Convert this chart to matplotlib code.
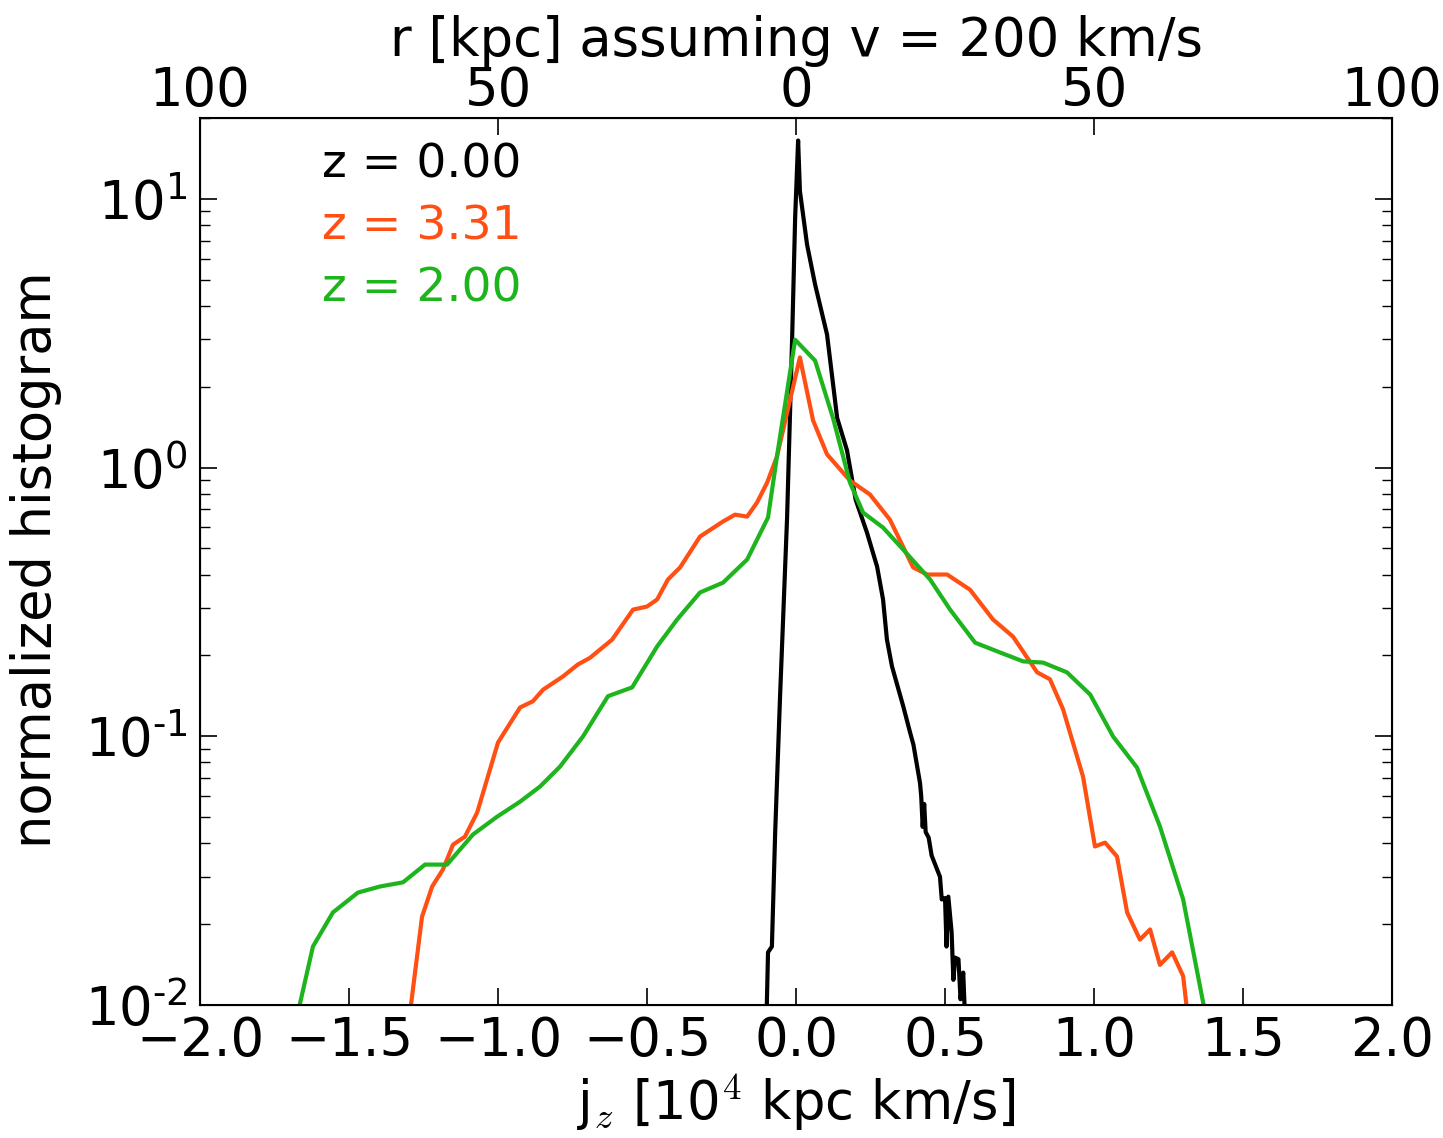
import matplotlib
matplotlib.use("Agg")
import matplotlib.pyplot as plt
from matplotlib.ticker import FixedLocator, FixedFormatter
import numpy as np

# z = 0.00 (black)
black_x = [-0.100, -0.094, -0.081, -0.070, -0.054, -0.030, -0.013, -0.003, 0.007,
           0.013, 0.037, 0.064, 0.104, 0.138, 0.171, 0.200, 0.238, 0.272, 0.292,
           0.305, 0.322, 0.360, 0.383, 0.394, 0.416, 0.420, 0.425, 0.430, 0.435,
           0.445, 0.455, 0.483, 0.489, 0.500, 0.505, 0.511, 0.522, 0.528, 0.534,
           0.545, 0.552, 0.561, 0.567]
black_y = [0.008, 0.0157, 0.0165, 0.0438, 0.137, 0.652, 3.05, 8.5, 16.5,
           10.7, 6.76, 4.80, 3.13, 1.53, 1.16, 0.76, 0.573, 0.428, 0.323,
           0.229, 0.182, 0.129, 0.103, 0.093, 0.067, 0.060, 0.046, 0.056, 0.044,
           0.042, 0.036, 0.030, 0.0247, 0.0250, 0.0165, 0.0253, 0.0187, 0.0124, 0.0150,
           0.0148, 0.0105, 0.0132, 0.009]

# z = 3.31 (orange)
orange_x = [-1.300, -1.255, -1.221, -1.185, -1.151, -1.111, -1.070, -1.034, -1.000,
            -0.926, -0.883, -0.849, -0.782, -0.732, -0.691, -0.617, -0.547, -0.500,
            -0.466, -0.430, -0.389, -0.322, -0.245, -0.205, -0.164, -0.131, -0.097,
            -0.064, 0.013, 0.057, 0.104, 0.181, 0.248, 0.315, 0.393, 0.440, 0.507,
            0.584, 0.661, 0.728, 0.809, 0.852, 0.896, 0.963, 1.003, 1.037, 1.077,
            1.111, 1.154, 1.188, 1.221, 1.262, 1.299, 1.320]
orange_y = [0.0085, 0.0213, 0.0276, 0.0319, 0.0395, 0.0423, 0.052, 0.0708, 0.0948,
            0.128, 0.135, 0.149, 0.167, 0.185, 0.196, 0.229, 0.296, 0.304,
            0.323, 0.383, 0.425, 0.554, 0.630, 0.668, 0.657, 0.741, 0.879,
            1.10, 2.57, 1.50, 1.12, 0.895, 0.794, 0.640, 0.425, 0.400, 0.400,
            0.351, 0.272, 0.235, 0.173, 0.163, 0.126, 0.0708, 0.0389, 0.0402, 0.0357,
            0.0221, 0.0175, 0.0191, 0.0141, 0.0157, 0.0128, 0.008]

# z = 2.00 (green)
green_x = [-1.680, -1.621, -1.554, -1.470, -1.396, -1.319, -1.245, -1.171, -1.084,
           -1.003, -0.926, -0.859, -0.792, -0.715, -0.631, -0.550, -0.466, -0.399,
           -0.322, -0.245, -0.164, -0.094, -0.064, -0.003, 0.064, 0.124, 0.181,
           0.225, 0.292, 0.359, 0.450, 0.517, 0.601, 0.685, 0.762, 0.829, 0.909,
           0.987, 1.064, 1.144, 1.221, 1.299, 1.380]
green_y = [0.0085, 0.0165, 0.0221, 0.0262, 0.0276, 0.0286, 0.0333, 0.0333, 0.0431,
           0.0502, 0.0571, 0.0650, 0.0771, 0.0998, 0.141, 0.152, 0.216, 0.272,
           0.343, 0.373, 0.455, 0.652, 1.10, 2.99, 2.50, 1.53, 0.879,
           0.680, 0.598, 0.496, 0.383, 0.296, 0.223, 0.205, 0.190, 0.188, 0.173,
           0.143, 0.0998, 0.0765, 0.0462, 0.0247, 0.0085]

labels = ["z = 0.00", "z = 3.31", "z = 2.00"]
colors = ["black", "#ff4f12", "#1eb41e"]

top_ticks = [-2, -1, 0, 1, 2]
top_labels = ["100", "50", "0", "50", "100"]
bottom_ticks = [-2.0, -1.5, -1.0, -0.5, 0.0, 0.5, 1.0, 1.5, 2.0]
y_ticks = [0.01, 0.1, 1, 10]
y_labels = [r"$10^{\text{-}2}$", r"$10^{\text{-}1}$", r"$10^{0}$", r"$10^{1}$"]

fig = plt.figure(figsize=(14.43, 11.38), dpi=100)
ax = fig.add_axes([0.1386, 0.1169, 0.8261, 0.7794])

ax.plot(black_x, black_y, color=colors[0], lw=3)
ax.plot(orange_x, orange_y, color=colors[1], lw=3)
ax.plot(green_x, green_y, color=colors[2], lw=3)

ax.set_yscale("log")
ax.set_xlim(-2, 2)
ax.set_ylim(0.01, 20)
ax.set_xticks(bottom_ticks)
ax.set_xticklabels([f"{t:.1f}".replace("-", "\u2212") for t in bottom_ticks])
ax.yaxis.set_major_locator(FixedLocator(y_ticks))
ax.yaxis.set_major_formatter(FixedFormatter(y_labels))

ax.tick_params(axis="both", which="major", direction="in", length=12, width=1.2,
               labelsize=38)
ax.tick_params(axis="x", pad=7)
ax.tick_params(axis="y", which="major", pad=9)
ax.tick_params(axis="y", which="both", right=True, direction="in")
ax.tick_params(axis="y", which="minor", length=7, width=1)
ax.tick_params(axis="x", top=False)
for sp in ax.spines.values():
    sp.set_linewidth(1.5)

ax.set_xlabel("j$_z$ [10$^4$ kpc km/s]", fontsize=38, labelpad=4,
              math_fontfamily="cm")
ax.set_ylabel("normalized histogram", fontsize=38)
ax.yaxis.set_label_coords(-0.1158, 0.502)

ax2 = ax.twiny()
ax2.set_xlim(ax.get_xlim())
ax2.set_xticks(top_ticks)
ax2.set_xticklabels(top_labels)
ax2.tick_params(axis="x", direction="in", length=12, width=1.2, labelsize=38, pad=1)
ax2.set_xlabel("r [kpc] assuming v = 200 km/s", fontsize=38, labelpad=6)

ys = [0.947, 0.877, 0.807]
for lab, c, y in zip(labels, colors, ys):
    ax.text(0.102, y, lab, color=c, fontsize=34, transform=ax.transAxes,
            ha="left", va="center")

fig.savefig("out.png", dpi=100)
